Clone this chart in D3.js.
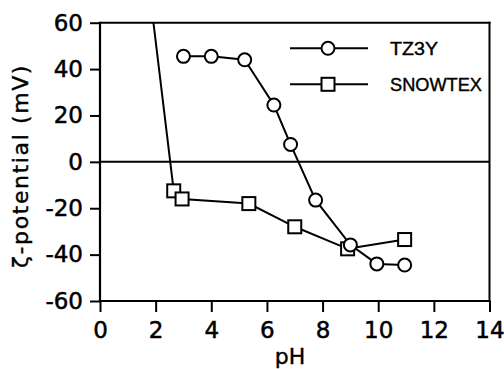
<!DOCTYPE html>
<html>
<head>
<meta charset="utf-8">
<script src="https://cdn.jsdelivr.net/npm/d3@7"></script>
<style>
  html, body { margin: 0; padding: 0; background: #fff; }
  svg { display: block; }
  .tick text { font-family: "DejaVu Sans", sans-serif; font-size: 23px; fill: #000; stroke: #000; stroke-width: 0.5px; }
  .title { stroke: #000; stroke-width: 0.4px; }
</style>
</head>
<body>
<svg id="chart" width="504" height="369"></svg>
<script>
// pH values and zeta potentials (mV)
const tz3yPH = [3, 4, 5.2, 6.25, 6.85, 7.75, 9, 9.95, 10.95];
const tz3yZeta = [45.5, 45.5, 44, 24.5, 7.5, -16.5, -35.8, -44, -44.5];

// first SNOWTEX reading lies above the plotted range (no marker shown)
const snowPH = [1.8, 2.65, 2.95, 5.35, 7.0, 8.9, 10.95];
const snowZeta = [72, -12.5, -16, -18, -28, -37.5, -33.5];

const xTicks = [0, 2, 4, 6, 8, 10, 12, 14];
const yTicks = [-60, -40, -20, 0, 20, 40, 60];
const seriesNames = ["TZ3Y", "SNOWTEX"];

const svg = d3.select("#chart");
const pLeft = 100, pRight = 489.5, pTop = 22.7, pBottom = 301;

const x = d3.scaleLinear().domain([0, 14]).range([pLeft, pRight]);
const y = d3.scaleLinear().domain([-60, 60]).range([pBottom, pTop]);

svg.append("defs").append("clipPath").attr("id", "plot")
  .append("rect").attr("x", pLeft).attr("y", pTop)
  .attr("width", pRight - pLeft).attr("height", pBottom - pTop);

// axes (plain hyphen for negative numbers)
const fmt = d => String(d);
const yAxis = svg.append("g").attr("transform", `translate(${pLeft},0)`)
  .call(d3.axisLeft(y).tickValues(yTicks).tickSize(10).tickPadding(7).tickFormat(fmt));
const xAxis = svg.append("g").attr("transform", `translate(0,${pBottom})`)
  .call(d3.axisBottom(x).tickValues(xTicks).tickSize(11).tickPadding(10).tickFormat(fmt));
[yAxis, xAxis].forEach(g => {
  g.select(".domain").attr("stroke", "#000").attr("stroke-width", 2.2);
  g.selectAll(".tick line").attr("stroke", "#000").attr("stroke-width", 2);
});
yAxis.select(".domain").attr("d", `M0,${pBottom + 1}V${pTop - 1}`);
xAxis.select(".domain").attr("d", `M${pLeft - 1},0H${pRight + 1}`);

// frame top/right and zero line
svg.append("line").attr("x1", pLeft).attr("x2", pRight + 1).attr("y1", pTop).attr("y2", pTop)
  .attr("stroke", "#000").attr("stroke-width", 2);
svg.append("line").attr("x1", pRight).attr("x2", pRight).attr("y1", pTop - 1).attr("y2", pBottom)
  .attr("stroke", "#000").attr("stroke-width", 2);
svg.append("line").attr("x1", pLeft).attr("x2", pRight).attr("y1", y(0)).attr("y2", y(0))
  .attr("stroke", "#000").attr("stroke-width", 2);

// axis titles
svg.append("text").attr("class", "title").attr("x", 290).attr("y", 364).attr("text-anchor", "middle")
  .attr("font-family", "DejaVu Sans, sans-serif").attr("font-size", 22).text("pH");
svg.append("text").attr("class", "title").attr("transform", "translate(28,166) rotate(-90)")
  .attr("text-anchor", "middle")
  .attr("font-family", "DejaVu Sans, sans-serif").attr("font-size", 22)
  .attr("letter-spacing", 1.6).text("ζ-potential (mV)");

const line = d3.line().x(d => x(d[0])).y(d => y(d[1]));
const tz3y = tz3yPH.map((p, i) => [p, tz3yZeta[i]]);
const snow = snowPH.map((p, i) => [p, snowZeta[i]]);

const plot = svg.append("g").attr("clip-path", "url(#plot)");
plot.append("path").datum(snow).attr("d", line)
  .attr("fill", "none").attr("stroke", "#000").attr("stroke-width", 2);
plot.append("path").datum(tz3y).attr("d", line)
  .attr("fill", "none").attr("stroke", "#000").attr("stroke-width", 2);

const sq = 13;
svg.append("g").selectAll("rect").data(snow.filter(d => d[1] <= 60)).join("rect")
  .attr("x", d => x(d[0]) - sq / 2).attr("y", d => y(d[1]) - sq / 2)
  .attr("width", sq).attr("height", sq)
  .attr("fill", "#fff").attr("stroke", "#000").attr("stroke-width", 2);
svg.append("g").selectAll("circle").data(tz3y).join("circle")
  .attr("cx", d => x(d[0])).attr("cy", d => y(d[1])).attr("r", 6.5)
  .attr("fill", "#fff").attr("stroke", "#000").attr("stroke-width", 2);

// legend
const legend = svg.append("g");
seriesNames.forEach((name, i) => {
  const ly = 48.3 + i * 36;
  legend.append("line").attr("x1", 290).attr("x2", 368).attr("y1", ly).attr("y2", ly)
    .attr("stroke", "#000").attr("stroke-width", 2);
  if (i === 0) {
    legend.append("circle").attr("cx", 328).attr("cy", ly).attr("r", 6.5)
      .attr("fill", "#fff").attr("stroke", "#000").attr("stroke-width", 2);
  } else {
    legend.append("rect").attr("x", 328 - sq / 2).attr("y", ly - sq / 2)
      .attr("width", sq).attr("height", sq)
      .attr("fill", "#fff").attr("stroke", "#000").attr("stroke-width", 2);
  }
  legend.append("text").attr("class", "title").attr("x", 390).attr("y", ly + 6.5)
    .attr("font-family", "Liberation Sans, Arial, sans-serif").attr("font-size", 18)
    .attr("textLength", i === 0 ? 48 : 92).attr("lengthAdjust", "spacingAndGlyphs")
    .text(name);
});
</script>
</body>
</html>
